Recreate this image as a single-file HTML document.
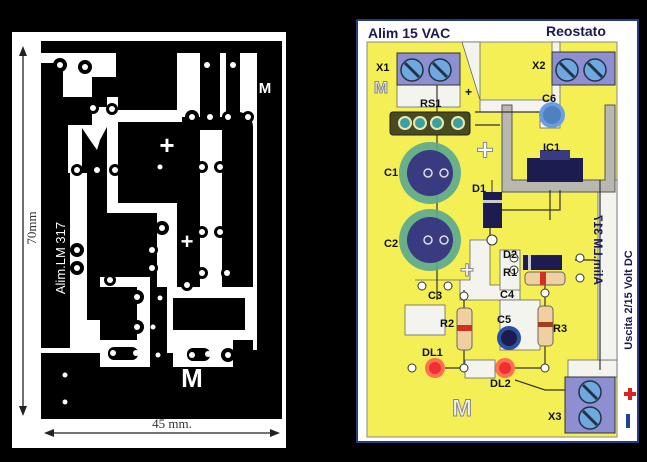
<!DOCTYPE html>
<html><head><meta charset="utf-8"><style>
html,body{margin:0;padding:0;background:#000;}
svg{display:block}
text{font-family:"Liberation Sans",sans-serif;}
</style></head><body>
<svg width="647" height="462" viewBox="0 0 647 462" xmlns="http://www.w3.org/2000/svg">
<rect width="647" height="462" fill="#000"/>
<!-- LEFT PANEL -->
<rect x="12" y="32" width="274" height="416" fill="#fff"/>
<rect x="41" y="41" width="241" height="378" fill="#000"/>
<g fill="#fff">
<rect x="41" y="53" width="22" height="10"/>
<rect x="63" y="53" width="53" height="24"/>
<rect x="63" y="77" width="29" height="20"/>
<rect x="68" y="125" width="14" height="48"/>
<rect x="70" y="173" width="17" height="175"/>
<rect x="107" y="97" width="11" height="116"/>
<rect x="92" y="107" width="26" height="20"/>
<rect x="118" y="110" width="64" height="12"/>
<rect x="177" y="53" width="23" height="64"/>
<rect x="220" y="53" width="6" height="64"/>
<rect x="240" y="53" width="17" height="77"/>
<rect x="200" y="130" width="22" height="157"/>
<rect x="253" y="100" width="4" height="250"/>
<rect x="118" y="203" width="59" height="10"/>
<rect x="157" y="213" width="20" height="74"/>
<rect x="100" y="277" width="50" height="10"/>
<rect x="137" y="287" width="13" height="66"/>
<rect x="167" y="287" width="90" height="11"/>
<rect x="167" y="298" width="6" height="55"/>
<rect x="245" y="298" width="12" height="40"/>
<rect x="173" y="330" width="84" height="10"/>
<rect x="173" y="340" width="60" height="27"/>
<rect x="70" y="320" width="30" height="33"/>
<rect x="100" y="340" width="50" height="27"/>
<rect x="41" y="348" width="59" height="5"/>
<polygon points="80,125 108,125 100,140 97,150 90,140"/>
</g>
<!-- big oval black -->
<rect x="222" y="112" width="31" height="160" rx="15" fill="#000"/>
<g fill="#000">
<circle cx="60" cy="65" r="7"/><circle cx="85" cy="67" r="7"/><circle cx="93" cy="108" r="6"/><circle cx="112" cy="109" r="6"/>
<circle cx="77" cy="170" r="6"/><circle cx="97" cy="170" r="6"/><circle cx="115" cy="170" r="6"/>
<circle cx="192" cy="117" r="7"/><circle cx="210" cy="117" r="6"/><circle cx="228" cy="117" r="6"/><circle cx="248" cy="117" r="6"/>
<circle cx="207" cy="65" r="7"/><circle cx="233" cy="65" r="7"/>
<circle cx="202" cy="167" r="6"/><circle cx="220" cy="167" r="6"/><circle cx="202" cy="232" r="6"/><circle cx="220" cy="232" r="6"/>
<circle cx="162" cy="228" r="7"/><circle cx="77" cy="250" r="7"/><circle cx="77" cy="268" r="7"/><circle cx="152" cy="250" r="6"/><circle cx="152" cy="268" r="6"/>
<circle cx="110" cy="280" r="6"/><circle cx="202" cy="273" r="6"/><circle cx="187" cy="285" r="6"/><circle cx="227" cy="273" r="6"/>
<circle cx="137" cy="297" r="7"/><circle cx="137" cy="327" r="7"/>
<rect x="108" y="347" width="30" height="13" rx="6"/><rect x="187" y="348" width="23" height="13" rx="6"/><circle cx="228" cy="355" r="7"/>
</g>
<g fill="#fff">
<circle cx="60" cy="65" r="3"/><circle cx="85" cy="67" r="3"/><circle cx="93" cy="108" r="3"/><circle cx="112" cy="109" r="3"/>
<circle cx="77" cy="170" r="3"/><circle cx="97" cy="170" r="3"/><circle cx="115" cy="170" r="3"/><circle cx="160" cy="167" r="2.5"/>
<circle cx="192" cy="117" r="3"/><circle cx="210" cy="117" r="3"/><circle cx="228" cy="117" r="3"/><circle cx="248" cy="117" r="3"/>
<circle cx="207" cy="65" r="3"/><circle cx="233" cy="65" r="3"/>
<circle cx="202" cy="167" r="3"/><circle cx="220" cy="167" r="3"/><circle cx="202" cy="232" r="3"/><circle cx="220" cy="232" r="3"/>
<circle cx="162" cy="228" r="3"/><circle cx="77" cy="250" r="3"/><circle cx="77" cy="268" r="3"/><circle cx="152" cy="250" r="3"/><circle cx="152" cy="268" r="3"/>
<circle cx="110" cy="280" r="3"/><circle cx="202" cy="273" r="3"/><circle cx="187" cy="285" r="3"/><circle cx="227" cy="273" r="3"/>
<circle cx="137" cy="297" r="3"/><circle cx="137" cy="327" r="3"/><circle cx="160" cy="298" r="2.5"/><circle cx="153" cy="327" r="2.5"/>
<circle cx="158" cy="355" r="2.5"/><circle cx="113" cy="353" r="3"/><circle cx="136" cy="353" r="3"/><circle cx="192" cy="355" r="3"/><circle cx="208" cy="354" r="3"/><circle cx="228" cy="355" r="3"/>
<circle cx="65" cy="375" r="2.5"/><circle cx="65" cy="402" r="2.5"/>
</g>
<g fill="#fff" font-weight="bold">
<text x="167" y="154" font-size="26" text-anchor="middle">+</text>
<text x="187" y="249" font-size="22" text-anchor="middle">+</text>
<text x="265" y="93" font-size="15" text-anchor="middle">M</text>
<text x="192" y="387" font-size="26" text-anchor="middle">M</text>
</g>
<text transform="translate(65,258) rotate(-90)" fill="#fff" font-size="13" text-anchor="middle">Alim.LM 317</text>
<!-- dimension -->
<g stroke="#222" stroke-width="1.3" fill="#222">
<line x1="23" y1="50" x2="23" y2="412"/>
<polygon points="23,46 19,56 27,56" stroke="none"/><polygon points="23,416 19,406 27,406" stroke="none"/>
<line x1="48" y1="433" x2="276" y2="433"/>
<polygon points="44,433 54,429 54,437" stroke="none"/><polygon points="280,433 270,429 270,437" stroke="none"/>
</g>
<text transform="translate(36,228) rotate(-90)" fill="#333" font-size="13" font-family="Liberation Serif" text-anchor="middle" style="font-family:'Liberation Serif',serif">70mm</text>
<text x="172" y="428" fill="#333" font-size="13" text-anchor="middle" style="font-family:'Liberation Serif',serif">45 mm.</text>

<!-- RIGHT PANEL -->
<rect x="357" y="20" width="281" height="422" fill="#fff" stroke="#2a3a80" stroke-width="2"/>
<rect x="367" y="42" width="250" height="395" fill="#f4ef55" stroke="#888" stroke-width="1"/>
<text x="368" y="38" font-size="14" font-weight="bold" fill="#1a1a50">Alim 15 VAC</text>
<text x="546" y="36" font-size="14" font-weight="bold" fill="#1a1a50">Reostato</text>
<!-- light areas -->
<g fill="#f4f4ee" stroke="#666" stroke-width="0.8">
<rect x="397" y="85" width="63" height="22"/>
<polygon points="462,42 480,42 480,112 540,112 540,128 560,128 560,42 552,42 552,100 480,100"/>
<polygon points="415,280 460,280 460,300 520,300 520,285 490,285 490,240 470,240 470,280"/>
<rect x="405" y="305" width="40" height="30"/>
<rect x="500" y="300" width="40" height="50"/>
<rect x="568" y="360" width="49" height="17"/>
<rect x="598" y="180" width="19" height="180"/>
<rect x="465" y="360" width="30" height="18"/>
<rect x="500" y="250" width="20" height="40"/>
</g>
<!-- heatsink -->
<path d="M502,105 L512,105 L512,180 L605,180 L605,105 L615,105 L615,192 L502,192 Z" fill="#b8b8b0" stroke="#555" stroke-width="1"/>
<!-- traces -->
<g stroke="#333" stroke-width="1.2" fill="none">
<path d="M475,112 L545,112"/><path d="M475,125 L500,125"/><path d="M560,190 L560,210 L502,210"/><path d="M550,190 L550,220"/>
<path d="M437,85 L437,300"/><path d="M575,260 L595,260"/><path d="M545,285 L545,306"/><path d="M464,290 L464,308"/>
<path d="M464,350 L464,368 L445,368"/><path d="M545,346 L545,368 L515,368"/><path d="M515,380 L545,390 L565,390"/>
<path d="M490,240 L490,228"/><path d="M600,180 L600,370"/>
</g>
<!-- terminals -->
<g>
<rect x="397" y="53" width="63" height="32" fill="#8d8fd0" stroke="#333"/>
<rect x="552" y="52" width="63" height="33" fill="#8d8fd0" stroke="#333"/>
<rect x="565" y="377" width="50" height="56" fill="#8d8fd0" stroke="#333"/>
<g fill="#6fa8e0" stroke="#234" stroke-width="1.5">
<circle cx="412" cy="70" r="11"/><circle cx="440" cy="70" r="11"/>
<circle cx="567" cy="70" r="11"/><circle cx="595" cy="70" r="11"/>
<circle cx="590" cy="392" r="11"/><circle cx="590" cy="418" r="11"/>
</g>
<g stroke="#234" stroke-width="3">
<line x1="405" y1="63" x2="419" y2="77"/><line x1="433" y1="63" x2="447" y2="77"/>
<line x1="560" y1="63" x2="574" y2="77"/><line x1="588" y1="63" x2="602" y2="77"/>
<line x1="583" y1="385" x2="597" y2="399"/><line x1="583" y1="411" x2="597" y2="425"/>
</g>
</g>
<!-- RS1 -->
<rect x="390" y="112" width="80" height="23" rx="3" fill="#4a4a20" stroke="#222"/>
<g fill="#3aa0a0" stroke="#e8e8b0" stroke-width="2"><circle cx="405" cy="123" r="6"/><circle cx="420" cy="123" r="6"/><circle cx="437" cy="123" r="6"/><circle cx="458" cy="123" r="6"/></g>
<!-- C1 C2 -->
<g>
<circle cx="430" cy="173" r="31" fill="#5aa890" opacity="0.9"/><circle cx="430" cy="173" r="23" fill="#3a3a80"/>
<circle cx="430" cy="240" r="31" fill="#5aa890" opacity="0.9"/><circle cx="430" cy="240" r="23" fill="#3a3a80"/>
<g fill="none" stroke="#ddd" stroke-width="1.5"><circle cx="428" cy="173" r="4"/><circle cx="444" cy="173" r="4"/><circle cx="428" cy="240" r="4"/><circle cx="444" cy="240" r="4"/></g>
</g>
<!-- C6 -->
<circle cx="552" cy="115" r="13" fill="#6a9ee0"/><circle cx="552" cy="115" r="9" fill="#5080c0"/>
<!-- IC1 -->
<rect x="527" y="158" width="56" height="24" fill="#1c1c50"/><rect x="540" y="150" width="30" height="10" fill="#3a3a80"/>
<!-- D1 -->
<rect x="483" y="192" width="19" height="36" fill="#1c1c50"/><rect x="483" y="200" width="19" height="3" fill="#ccc"/>
<line x1="492" y1="180" x2="492" y2="192" stroke="#333"/><circle cx="492" cy="240" r="5" fill="#fff" stroke="#333"/>
<!-- D2 -->
<rect x="523" y="255" width="39" height="15" fill="#1c1c50"/><rect x="528" y="255" width="3" height="15" fill="#ccc"/>
<!-- R1 R2 R3 -->
<rect x="525" y="272" width="40" height="13" rx="4" fill="#f0d0a0" stroke="#666"/><rect x="540" y="272" width="6" height="13" fill="#d03020"/>
<rect x="457" y="308" width="15" height="42" rx="4" fill="#f0d0a0" stroke="#666"/><rect x="457" y="325" width="15" height="6" fill="#d03020"/>
<rect x="538" y="306" width="15" height="40" rx="4" fill="#f0d0a0" stroke="#666"/><rect x="538" y="322" width="15" height="5" fill="#a04020"/>
<!-- C5 -->
<circle cx="509" cy="338" r="12" fill="#2a50a0"/><circle cx="509" cy="338" r="8" fill="#1c1c50"/>
<!-- LEDs -->
<circle cx="435" cy="368" r="10" fill="#ff5050" opacity="0.8"/><circle cx="435" cy="368" r="6" fill="#f03030"/>
<circle cx="505" cy="368" r="10" fill="#ff5050" opacity="0.8"/><circle cx="505" cy="368" r="6" fill="#f03030"/>
<g fill="#fff" stroke="#333"><circle cx="412" cy="368" r="4"/><circle cx="464" cy="368" r="4"/><circle cx="545" cy="368" r="4"/><circle cx="422" cy="286" r="4"/><circle cx="448" cy="286" r="4"/><circle cx="464" cy="296" r="4"/><circle cx="514" cy="270" r="4"/><circle cx="514" cy="258" r="4"/><circle cx="580" cy="258" r="4"/><circle cx="580" cy="278" r="4"/><circle cx="545" cy="293" r="4"/></g>
<!-- labels -->
<g font-size="11" font-weight="bold" fill="#111">
<text x="376" y="71">X1</text><text x="532" y="69">X2</text><text x="548" y="420">X3</text>
<text x="420" y="107">RS1</text><text x="542" y="102">C6</text><text x="543" y="151">IC1</text>
<text x="384" y="176">C1</text><text x="472" y="192">D1</text><text x="384" y="247">C2</text>
<text x="503" y="258">D2</text><text x="503" y="276">R1</text><text x="428" y="299">C3</text><text x="500" y="298">C4</text>
<text x="440" y="327">R2</text><text x="497" y="323">C5</text><text x="553" y="332">R3</text>
<text x="422" y="356">DL1</text><text x="490" y="387">DL2</text>
<text x="465" y="96" font-size="12">+</text>
</g>
<g font-weight="bold" fill="#fff" stroke="#888" stroke-width="1" text-anchor="middle">
<text x="485" y="160" font-size="30">+</text><text x="467" y="278" font-size="24">+</text>
<text x="381" y="93" font-size="17" fill="#e8e8f0">M</text><text x="462" y="416" font-size="24" fill="#f0f0f0">M</text>
</g>
<text transform="translate(594,250) rotate(90) scale(-1,1)" font-size="12" font-weight="bold" fill="#1a1a50" text-anchor="middle">Alim.LM 317</text>
<text transform="translate(632,300) rotate(-90)" font-size="11" font-weight="bold" fill="#1a1a50" text-anchor="middle">Uscita 2/15 Volt DC</text>
<path d="M624,392 h4 v-4 h4 v4 h4 v4 h-4 v4 h-4 v-4 h-4 z" fill="#e02020"/>
<rect x="626" y="414" width="4" height="14" fill="#2040a0"/>
</svg>
</body></html>
